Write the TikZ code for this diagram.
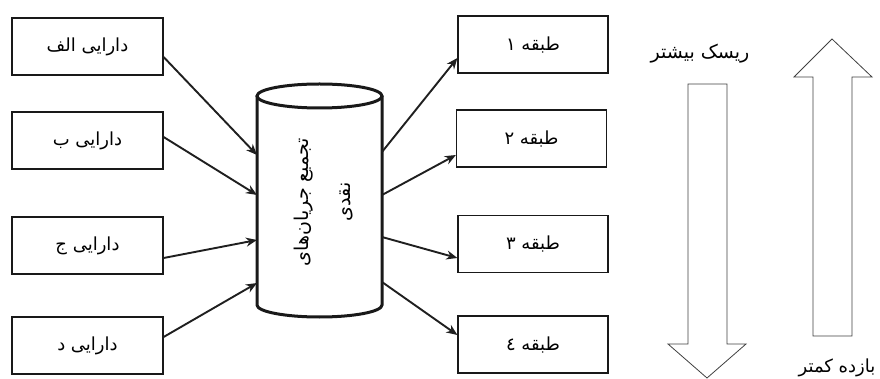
\documentclass[tikz,border=0pt]{standalone}
\usepackage{fontspec}
\newfontfamily\arabicfont[Script=Arabic]{DejaVu Sans}
\TeXXeTstate=1
\usetikzlibrary{arrows.meta}
\begin{document}
\begin{tikzpicture}[x=1pt,y=1pt,
  box/.style={draw=black!90,line width=1.2pt,minimum width=151pt,minimum height=57pt,inner sep=0pt,font=\arabicfont\fontsize{18}{20}\selectfont},
  conn/.style={line width=1.9pt,draw=black!88,-{Stealth[length=11pt,width=9pt]}},
  blockarrow/.style={draw=black!75,line width=0.8pt,fill=white},
  lbl/.style={font=\arabicfont\fontsize{19}{22}\selectfont,inner sep=0pt}]
\useasboundingbox (0,0) rectangle (880,-379);
% left boxes
\node[box] (a1) at (87.5,-46.5) {\beginR دارایی الف\endR};
\node[box] (a2) at (87.5,-140.5) {\beginR دارایی ب\endR};
\node[box] (a3) at (87.5,-245.5) {\beginR دارایی ج\endR};
\node[box] (a4) at (87.5,-345.5) {\beginR دارایی د\endR};
% right boxes
\node[box,minimum width=150pt] (b1) at (533,-44.5) {\beginR طبقه ١\endR};
\node[box,minimum width=150pt] (b2) at (531.5,-138.5) {\beginR طبقه ٢\endR};
\node[box,minimum width=150pt] (b3) at (533,-244) {\beginR طبقه ٣\endR};
\node[box,minimum width=150pt] (b4) at (533,-344.5) {\beginR طبقه ٤\endR};
% cylinder
\draw[line width=3pt,draw=black!90,fill=white] (257,-96) -- (257,-305)
  arc[start angle=180,end angle=360,x radius=62.5pt,y radius=12pt] -- (382,-96);
\draw[line width=3pt,draw=black!90] (319.5,-96) ellipse [x radius=62.5pt,y radius=12pt];
\node[rotate=90,align=center,font=\arabicfont\fontsize{19}{42}\selectfont] (ctext) at (324,-202)
  {\beginR تجمیع جریان‌های\endR\\\beginR نقدی\endR};
% connection points on cylinder
\coordinate (i1) at (257,-155);
\coordinate (i2) at (257,-195);
\coordinate (i3) at (257,-240);
\coordinate (i4) at (257,-283);
\coordinate (o1) at (382,-152);
\coordinate (o2) at (382,-195);
\coordinate (o3) at (382,-237);
\coordinate (o4) at (382,-282);
% connectors in
\draw[conn] ([yshift=-10.5pt]a1.east) -- (i1);
\draw[conn] ([yshift=3.5pt]a2.east) -- (i2);
\draw[conn] ([yshift=-12.5pt]a3.east) -- (i3);
\draw[conn] ([yshift=8.5pt]a4.east) -- (i4);
% connectors out
\draw[conn] (o1) -- ([yshift=-13.5pt]b1.west);
\draw[conn] (o2) -- ([yshift=-16.5pt]b2.west);
\draw[conn] (o3) -- ([yshift=-14pt]b3.west);
\draw[conn] (o4) -- ([yshift=9.5pt]b4.west);
% block arrows
\draw[blockarrow] (688,-84) -- (727,-84) -- (727,-344) -- (746,-344) -- (707,-378)
  -- (668,-344) -- (688,-344) -- cycle;
\draw[blockarrow] (813,-336) -- (852,-336) -- (852,-77) -- (872,-77) -- (832,-39)
  -- (794,-77) -- (813,-77) -- cycle;
\node[lbl] (risk) at (700,-54) {\beginR ریسک بیشتر\endR};
\node[lbl,font=\arabicfont\fontsize{18}{20}\selectfont] (ret) at (837,-368) {\beginR بازده کمتر\endR};
\end{tikzpicture}
\end{document}
